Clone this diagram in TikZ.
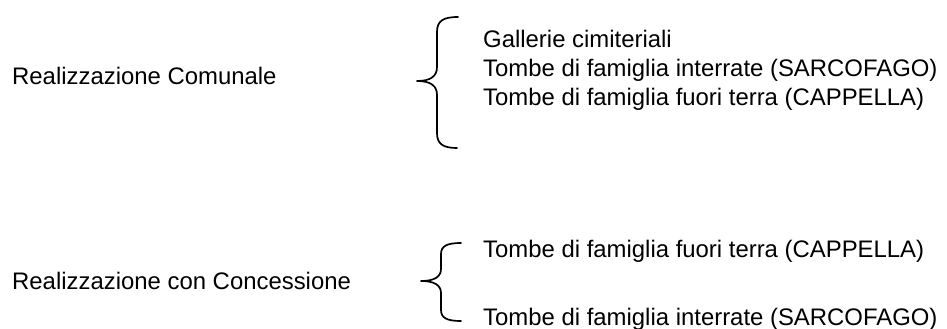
\documentclass[tikz,border=0pt]{standalone}
\usepackage{fontspec}
\setmainfont{Liberation Sans}
\begin{document}
\begin{tikzpicture}[x=1pt,y=-1pt,
  lbl/.style={anchor=base west,inner sep=0pt,font=\fontsize{23.9}{28}\selectfont},
  bracestroke/.style={line width=1.7pt,line cap=round,line join=round}]
\useasboundingbox (0,0) rectangle (947,329);
\fill[white] (0,0) rectangle (947,329);
% left labels
\node[lbl] (comunale) at (12,84) {Realizzazione Comunale};
\node[lbl] (concessione) at (12,289) {Realizzazione con Concessione};
% right items, group 1
\node[lbl] (gallerie) at (483,48) {Gallerie cimiteriali};
\node[lbl] (sarc1) at (483,76.5) {Tombe di famiglia interrate (SARCOFAGO)};
\node[lbl] (capp1) at (483,105) {Tombe di famiglia fuori terra (CAPPELLA)};
% right items, group 2
\node[lbl] (capp2) at (483,257) {Tombe di famiglia fuori terra (CAPPELLA)};
\node[lbl] (sarc2) at (483,325) {Tombe di famiglia interrate (SARCOFAGO)};
% brace 1
\draw[bracestroke] (458,17) .. controls (443,17) and (437,21) .. (437,32)
  -- (437,67) .. controls (437,76) and (431,81) .. (417,81)
  .. controls (431,81) and (437,86) .. (437,95)
  -- (437,133) .. controls (437,144) and (443,148) .. (457,148);
% brace 2
\draw[bracestroke] (461,243) .. controls (447,243) and (441,246) .. (441,254)
  -- (441,269) .. controls (441,277) and (434,281) .. (421,281)
  .. controls (434,281) and (441,285) .. (441,293)
  -- (441,310) .. controls (441,318) and (447,321) .. (461,321);
\end{tikzpicture}
\end{document}
